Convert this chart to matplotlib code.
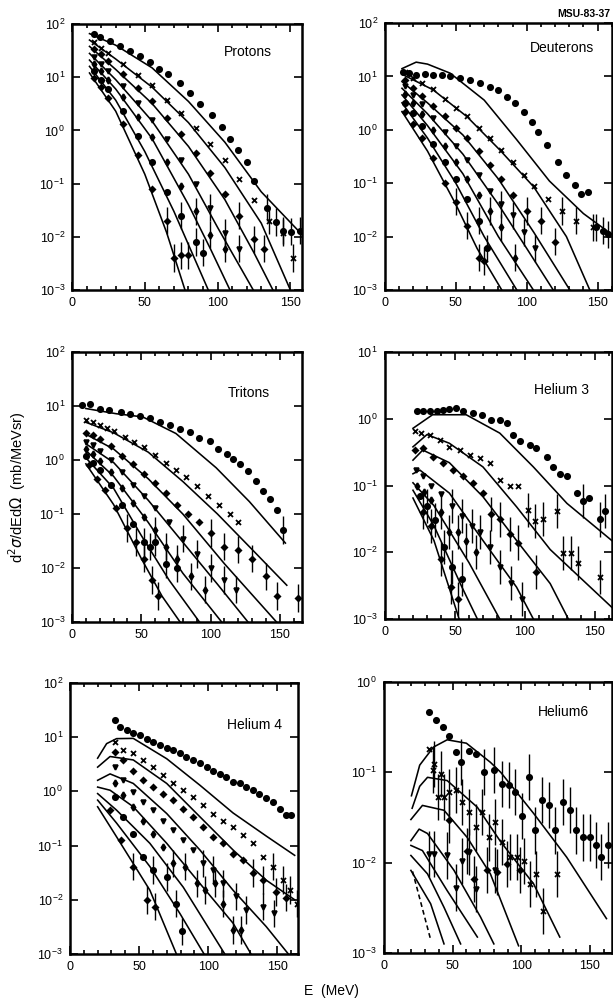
import matplotlib
matplotlib.use("Agg")
import matplotlib.pyplot as plt
from matplotlib.ticker import MultipleLocator, LogLocator, NullLocator

plt.rcParams['font.family'] = ['Liberation Sans', 'DejaVu Sans']

# ---------------- Protons ----------------
prot_line_e = [[12, 30, 55, 80, 105, 130, 158],
               [12, 30, 55, 80, 105, 130, 150],
               [12, 30, 55, 80, 105, 125, 138],
               [12, 30, 55, 80, 100, 124.5],
               [12, 30, 55, 80, 95, 108.5],
               [12, 30, 50, 70, 93.6],
               [12, 30, 50, 65, 77.6]]
prot_line_y = [[66, 40, 15, 3.5, 0.6, 0.07, 0.011],
               [50, 22, 6.5, 1.4, 0.2, 0.018, 0.001],
               [38, 14, 3.2, 0.5, 0.05, 0.005, 0.001],
               [28, 9, 1.5, 0.15, 0.015, 0.001],
               [21, 6, 0.7, 0.04, 0.006, 0.001],
               [16, 3.7, 0.4, 0.03, 0.001],
               [12, 2.3, 0.15, 0.012, 0.001]]
prot_pts_e = [[15, 19, 26, 33, 40, 47, 53.5, 60, 66, 74, 81, 88, 96, 103, 108.5, 114, 120, 125, 134, 140, 145, 150.5, 156.5],
              [15, 20, 25, 35, 45, 55, 65, 75, 85, 95, 105, 115, 125, 135, 145, 152],
              [15, 20, 25, 35, 45, 55, 65, 75, 85, 95, 105, 115, 125, 132],
              [15, 20, 25, 35, 45, 55, 65, 75, 85, 95, 105, 115],
              [15, 20, 25, 35, 45, 55, 65, 75, 85, 95, 105],
              [15, 20, 25, 35, 45, 55, 65, 75, 85, 90],
              [15, 20, 25, 35, 45, 55, 65, 70, 75, 80]]
prot_pts_y = [[64, 57, 48, 39, 31, 25, 19.5, 14.5, 11.5, 7.7, 5.0, 3.2, 1.95, 1.16, 0.70, 0.42, 0.25, 0.11, 0.035, 0.019, 0.013, 0.0125, 0.013],
              [46, 36, 29, 18, 11, 7, 3.8, 2.1, 1.1, 0.55, 0.28, 0.12, 0.05, 0.02, 0.012, 0.004],
              [34, 27, 20, 11.5, 6.3, 3.5, 1.7, 0.85, 0.38, 0.16, 0.065, 0.025, 0.009, 0.006],
              [24, 18, 13, 6.8, 3.3, 1.6, 0.68, 0.28, 0.1, 0.035, 0.012, 0.006],
              [18, 13, 9, 4.2, 1.8, 0.75, 0.25, 0.09, 0.03, 0.011, 0.006],
              [13, 9, 6, 2.3, 0.8, 0.25, 0.07, 0.025, 0.008, 0.005],
              [9.5, 6.5, 4, 1.3, 0.35, 0.08, 0.02, 0.004, 0.0045, 0.0045]]

# ---------------- Deuterons ----------------
deut_line_e = [[12, 22, 30, 46, 70, 93, 116, 140, 160],
               [12, 34, 58, 81, 105, 128, 144.5],
               [12, 30, 55, 80, 105, 130.4],
               [12, 30, 55, 80, 100, 118.7],
               [12, 30, 55, 80, 104.7],
               [12, 30, 50, 70, 93],
               [12, 30, 50, 65, 82.4]]
deut_line_y = [[14, 18.5, 17, 11.5, 3.6, 0.65, 0.11, 0.027, 0.011],
               [11, 5.6, 1.75, 0.42, 0.085, 0.01, 0.001],
               [8, 3.2, 0.8, 0.12, 0.012, 0.001],
               [6, 2.0, 0.35, 0.04, 0.006, 0.001],
               [4.5, 1.2, 0.15, 0.01, 0.001],
               [3.2, 0.7, 0.1, 0.01, 0.001],
               [2.2, 0.4, 0.04, 0.006, 0.001]]
deut_pts_e = [[13, 17, 22, 28, 34, 40, 46, 53, 60, 67, 74, 80, 86, 92, 98, 103.5, 108, 114, 122, 128, 134, 138.6, 143, 149, 154, 157],
              [14, 20, 26, 34, 42, 50, 58, 66, 74, 82, 90, 98, 105, 115, 125, 135, 147],
              [14, 20, 26, 34, 42, 50, 58, 66, 74, 82, 90, 100, 110, 120],
              [14, 20, 26, 34, 42, 50, 58, 66, 74, 82, 90, 98, 106],
              [14, 20, 26, 34, 42, 50, 58, 66, 74, 82, 92],
              [14, 20, 26, 34, 42, 50, 58, 66, 72],
              [14, 20, 26, 34, 42, 50, 58, 66, 70]]
deut_pts_y = [[12.3, 11.5, 10.8, 11, 10.7, 10.5, 10.2, 9.3, 8.6, 7.4, 6.4, 5.6, 4.2, 3.2, 2.2, 1.42, 0.91, 0.51, 0.25, 0.14, 0.091, 0.063, 0.068, 0.015, 0.013, 0.011],
              [12, 9.5, 7.5, 5.8, 3.8, 2.6, 1.8, 1.1, 0.7, 0.42, 0.25, 0.14, 0.09, 0.05, 0.03, 0.02, 0.015],
              [8.5, 6, 4.3, 2.8, 1.8, 1.1, 0.7, 0.4, 0.22, 0.12, 0.06, 0.03, 0.02, 0.008],
              [6.5, 4.5, 3, 1.7, 0.9, 0.5, 0.27, 0.14, 0.07, 0.04, 0.025, 0.012, 0.006],
              [4.6, 3.2, 2, 1, 0.5, 0.25, 0.12, 0.06, 0.03, 0.015, 0.004],
              [3.2, 2.1, 1.2, 0.55, 0.25, 0.12, 0.05, 0.02, 0.006],
              [2.2, 1.3, 0.7, 0.3, 0.1, 0.045, 0.016, 0.004, 0.0035]]

# ---------------- Tritons ----------------
trit_line_e = [[10, 32, 51, 75, 104, 128, 154],
               [10, 30, 55, 80, 105, 130, 155],
               [10, 30, 55, 80, 110, 147.6],
               [10, 30, 55, 80, 105, 127],
               [10, 30, 55, 80, 108],
               [10, 30, 50, 70, 92],
               [10, 30, 50, 65, 78]]
trit_line_y = [[9, 7.2, 6.3, 3.1, 0.72, 0.17, 0.029],
               [5, 3.2, 1.4, 0.4, 0.1, 0.022, 0.0048],
               [3, 1.6, 0.45, 0.1, 0.012, 0.001],
               [2, 0.9, 0.18, 0.03, 0.005, 0.001],
               [1.5, 0.5, 0.07, 0.008, 0.001],
               [1.1, 0.3, 0.04, 0.006, 0.001],
               [0.85, 0.15, 0.015, 0.003, 0.001]]
trit_pts_e = [[7, 13, 20, 27, 35, 42, 49, 56, 63.5, 70.7, 78, 85, 92, 99.5, 105.5, 111.5, 116, 121, 127, 133, 138, 143, 147.6, 152],
              [10, 15, 20, 25, 30, 38, 45, 52, 60, 68, 75, 82, 90, 98, 106, 114, 120],
              [10, 15, 20, 28, 36, 44, 52, 60, 68, 76, 84, 92, 100, 110, 120, 130, 140, 148, 163],
              [10, 15, 20, 28, 36, 44, 52, 60, 70, 80, 90, 100, 110, 118],
              [10, 15, 20, 28, 36, 44, 52, 60, 68, 76, 86, 96],
              [10, 15, 20, 28, 36, 44, 52, 56, 60, 68, 76],
              [12, 18, 24, 32, 40, 46, 52, 58, 62]]
trit_pts_y = [[10.5, 11, 9, 8.6, 7.8, 7.2, 6.5, 5.9, 5.1, 4.4, 3.8, 3.3, 2.6, 2.3, 1.6, 1.3, 1.05, 0.85, 0.63, 0.41, 0.27, 0.19, 0.12, 0.051],
              [5.5, 5, 4.5, 4, 3.5, 2.7, 2.2, 1.75, 1.25, 0.9, 0.65, 0.48, 0.33, 0.22, 0.15, 0.1, 0.07],
              [3.2, 2.9, 2.5, 1.8, 1.2, 0.85, 0.55, 0.38, 0.25, 0.15, 0.1, 0.07, 0.045, 0.025, 0.022, 0.015, 0.007, 0.003, 0.0028],
              [2.2, 1.9, 1.5, 1.0, 0.6, 0.35, 0.22, 0.13, 0.07, 0.035, 0.018, 0.01, 0.006, 0.004],
              [1.6, 1.3, 0.95, 0.6, 0.3, 0.16, 0.09, 0.05, 0.025, 0.015, 0.007, 0.004],
              [1.2, 0.9, 0.65, 0.35, 0.15, 0.065, 0.03, 0.025, 0.03, 0.012, 0.01],
              [0.8, 0.45, 0.28, 0.13, 0.055, 0.03, 0.015, 0.006, 0.003]]

# ---------------- Helium 3 ----------------
he3_line_e = [[20, 34, 58, 82, 106, 130, 162],
              [20, 30, 46, 70, 94, 118, 162],
              [20, 27, 46, 70, 94, 118, 131],
              [20, 25, 46, 70, 94, 106],
              [20, 35, 60, 82],
              [20, 35, 55, 66],
              [20, 35, 53]]
he3_line_y = [[0.72, 1.15, 1.15, 0.61, 0.19, 0.054, 0.015],
              [0.38, 0.58, 0.43, 0.19, 0.048, 0.011, 0.0015],
              [0.24, 0.34, 0.22, 0.068, 0.015, 0.0034, 0.001],
              [0.15, 0.17, 0.077, 0.015, 0.003, 0.001],
              [0.11, 0.05, 0.007, 0.001],
              [0.085, 0.025, 0.003, 0.001],
              [0.065, 0.015, 0.001]]
he3_pts_e = [[22.6, 27, 32, 37, 41.7, 46, 51, 56, 63, 69, 76, 82, 87, 91.7, 96.4, 103.6, 108, 115.5, 120, 125, 130, 137, 141.7, 146, 153.6, 157],
             [21.4, 26, 32, 39, 46, 53.6, 60.7, 68, 75, 82, 89, 95, 102, 107, 113, 122.6, 127, 133, 138, 153.6],
             [21.4, 27, 34.5, 41.7, 48.8, 56, 63, 70, 76, 82, 89, 95, 108],
             [22, 27, 33, 40, 48, 55, 62, 68, 75, 82, 90, 98],
             [23, 28, 33, 40, 46, 52, 58, 65],
             [25, 30, 36, 42, 48, 55],
             [27, 33, 40, 47, 52]]
he3_pts_y = [[1.29, 1.29, 1.32, 1.33, 1.36, 1.4, 1.45, 1.29, 1.22, 1.15, 0.97, 0.97, 0.86, 0.58, 0.46, 0.41, 0.36, 0.27, 0.19, 0.15, 0.14, 0.077, 0.058, 0.065, 0.031, 0.041],
             [0.65, 0.61, 0.58, 0.48, 0.38, 0.34, 0.29, 0.26, 0.22, 0.12, 0.10, 0.097, 0.043, 0.029, 0.032, 0.041, 0.0097, 0.0097, 0.0068, 0.0043],
             [0.34, 0.36, 0.27, 0.22, 0.17, 0.14, 0.11, 0.077, 0.038, 0.031, 0.019, 0.014, 0.0051],
             [0.17, 0.14, 0.1, 0.075, 0.05, 0.035, 0.025, 0.02, 0.012, 0.006, 0.0035, 0.002],
             [0.1, 0.08, 0.06, 0.04, 0.02, 0.02, 0.015, 0.01],
             [0.07, 0.05, 0.03, 0.012, 0.006, 0.004],
             [0.04, 0.025, 0.008, 0.003, 0.002]]

# ---------------- Helium 4 ----------------
he4_line_e = [[20, 26.5, 33.7, 45.8, 70, 94, 118, 142, 162.6],
              [20, 29, 45.8, 70, 94, 118, 142, 162.6],
              [20, 29, 45.8, 70, 94, 118, 142, 158],
              [20, 29, 45.8, 70, 94, 118, 131],
              [20, 33.7, 57.8, 82, 112],
              [20, 33.7, 57.8, 79.5, 97],
              [20, 33.7, 57.8, 77]]
he4_line_y = [[4.1, 7.6, 9.4, 9.5, 4.0, 1.3, 0.4, 0.15, 0.066],
              [2.8, 4.4, 3.8, 1.4, 0.34, 0.083, 0.023, 0.01],
              [1.6, 2.1, 1.4, 0.39, 0.083, 0.015, 0.0032, 0.001],
              [1.2, 1.05, 0.52, 0.11, 0.02, 0.0037, 0.001],
              [0.91, 0.45, 0.11, 0.017, 0.001],
              [0.69, 0.26, 0.041, 0.0056, 0.001],
              [0.52, 0.145, 0.015, 0.001]]
he4_pts_e = [[32.5, 36, 41, 45.8, 50.6, 55.4, 60, 65, 70, 74.7, 79.5, 84, 89, 94, 98.8, 103.6, 108.4, 113, 118, 123, 127.7, 132.5, 137, 142, 147, 151.8, 156.6, 160],
             [32.5, 38.5, 45.8, 53, 60, 67.5, 74.7, 82, 89, 96.4, 103.6, 111, 118, 125, 132.5, 140, 147, 154, 159, 164],
             [32.5, 38.5, 45.8, 53, 60, 67.5, 74.7, 82, 89, 96.4, 103.6, 111, 118, 125, 132.5, 140, 149, 156.6],
             [32.5, 38.5, 45.8, 53, 60, 67.5, 74.7, 82, 89, 96.4, 103.6, 111, 120.5, 127.7, 140, 148],
             [32.5, 38.5, 45.8, 53, 60, 67.5, 74.7, 83, 91.6, 97.6, 104.8, 111, 118, 124],
             [32.5, 38.5, 45.8, 53, 60, 70, 77, 80.7],
             [29, 37, 45.8, 55.4, 61.4]]
he4_pts_y = [[20.5, 15.4, 13.4, 11.7, 10.8, 9.4, 8.1, 7.1, 6.2, 5.7, 5.0, 4.3, 3.8, 3.3, 2.8, 2.4, 2.1, 1.85, 1.5, 1.4, 1.2, 1.05, 0.91, 0.74, 0.65, 0.48, 0.36, 0.36],
             [8.1, 5.7, 5.0, 3.8, 2.8, 2.0, 1.4, 1.05, 0.79, 0.56, 0.39, 0.29, 0.22, 0.155, 0.11, 0.062, 0.041, 0.023, 0.015, 0.0085],
             [5.4, 3.8, 2.4, 1.6, 1.2, 0.91, 0.69, 0.48, 0.34, 0.22, 0.145, 0.11, 0.071, 0.054, 0.031, 0.023, 0.014, 0.011],
             [2.8, 1.6, 0.98, 0.65, 0.45, 0.29, 0.19, 0.126, 0.083, 0.047, 0.035, 0.02, 0.0115, 0.0065, 0.0075, 0.0056],
             [1.4, 0.85, 0.52, 0.29, 0.165, 0.095, 0.047, 0.041, 0.02, 0.015, 0.02, 0.0085, 0.0028, 0.0028],
             [0.79, 0.34, 0.165, 0.062, 0.035, 0.026, 0.0085, 0.0026],
             [0.45, 0.126, 0.041, 0.01, 0.0075]]

# ---------------- Helium 6 ----------------
he6_line_e = [[20, 26, 36, 46, 60, 77.5, 85, 109, 133, 162],
              [20.5, 26, 31.7, 46, 68, 85, 109, 128],
              [19.6, 28, 43.7, 60.6, 77.5, 98],
              [19.6, 25.6, 31.7, 51, 70.3, 80],
              [19.6, 28, 46, 68],
              [19.6, 31.7, 43.7, 55.8],
              [19.6, 34, 43.7],
              [20.8, 34]]
he6_line_y = [[0.055, 0.12, 0.19, 0.229, 0.21, 0.129, 0.1, 0.035, 0.0115, 0.0024],
              [0.04, 0.07, 0.088, 0.081, 0.041, 0.017, 0.0058, 0.0015],
              [0.03, 0.043, 0.038, 0.019, 0.0075, 0.0012],
              [0.0175, 0.0235, 0.021, 0.0082, 0.0025, 0.00126],
              [0.0155, 0.0136, 0.0049, 0.0015],
              [0.012, 0.0075, 0.0032, 0.00126],
              [0.0082, 0.0035, 0.00126],
              [0.008, 0.0014]]
he6_pts_e = [[33, 37.8, 42.7, 47.5, 52.2, 55.8, 61.8, 66.7, 72.7, 80, 86, 91, 95.7, 100.5, 105.3, 110, 115, 119.8, 124.6, 130.6, 135.4, 140, 145, 150, 154.7, 158.3, 163],
             [32.8, 35.5, 36.5, 39, 41.3, 44, 47.3, 52.2, 57, 61.8, 66.7, 71.5, 76.3, 81, 86, 92, 97, 101.7, 106.5, 111, 116, 126],
             [47.3, 60.7, 65.5, 75, 82.4, 89.6, 99],
             [32.8, 36.5, 46, 52.2, 57, 61.8, 66.7, 81]]
he6_pts_y = [[0.47, 0.38, 0.32, 0.25, 0.166, 0.129, 0.174, 0.16, 0.1, 0.105, 0.075, 0.072, 0.06, 0.033, 0.089, 0.0227, 0.049, 0.043, 0.0227, 0.047, 0.038, 0.0227, 0.019, 0.019, 0.0155, 0.0115, 0.0155],
             [0.18, 0.105, 0.123, 0.053, 0.096, 0.053, 0.06, 0.063, 0.047, 0.036, 0.0245, 0.036, 0.019, 0.028, 0.017, 0.0115, 0.0115, 0.0105, 0.0058, 0.0074, 0.0029, 0.0074],
             [0.03, 0.0135, 0.0066, 0.0082, 0.0079, 0.0097, 0.0082],
             [0.0125, 0.0125, 0.012, 0.0053, 0.0105, 0.013, 0.0051, 0.0082]]

panel_names = ['Protons', 'Deuterons', 'Tritons', 'Helium 3', 'Helium 4', 'Helium6']

markers = ['o', 'x', 'D', 'v', 'd', 'o', 'D']
msizes = {'o': 3.8, 'x': 3.6, 'D': 2.8, 'v': 3.4, 'd': 3.4}


def draw_panel(ax, line_e, line_y, pts_e, pts_y, name, xmax, ylo, yhi, err_below, name_xy):
    for k, (e, y) in enumerate(zip(line_e, line_y)):
        ls = (0, (3, 2)) if k == 7 else '-'
        ax.plot(e, y, color='k', lw=1.15, ls=ls)
    for k, (e, y) in enumerate(zip(pts_e, pts_y)):
        m = markers[k % len(markers)]
        ax.plot(e, y, ls='none', marker=m, ms=msizes[m], color='k', mew=1.3)
        ee = [a for a, b in zip(e, y) if b < err_below]
        yy = [b for b in y if b < err_below]
        if ee:
            lo = [b - b / 1.8 for b in yy]
            hi = [b * 0.8 for b in yy]
            ax.errorbar(ee, yy, yerr=[lo, hi], fmt='none', ecolor='k', elinewidth=1.0, capsize=0)
    ax.set_yscale('log')
    ax.set_xlim(0, xmax)
    ax.set_ylim(ylo, yhi)
    ax.xaxis.set_major_locator(MultipleLocator(50))
    ax.xaxis.set_minor_locator(MultipleLocator(10))
    ax.yaxis.set_major_locator(LogLocator(base=10, numticks=10))
    ax.yaxis.set_minor_locator(NullLocator())
    ax.tick_params(which='both', direction='in', top=True, right=True, width=1.2, labelsize=9)
    ax.tick_params(which='major', length=6, pad=5)
    ax.tick_params(which='minor', length=3)
    for sp in ax.spines.values():
        sp.set_linewidth(1.8)
    ax.text(name_xy[0], name_xy[1], name, transform=ax.transAxes, ha='center', va='center', fontsize=10)


fig = plt.figure(figsize=(6.13, 10.01), dpi=100)

ax1 = fig.add_axes([0.1175, 0.7103, 0.3752, 0.2657])
ax2 = fig.add_axes([0.628, 0.7103, 0.370, 0.2667])
ax3 = fig.add_axes([0.1175, 0.3786, 0.3752, 0.2697])
ax4 = fig.add_axes([0.628, 0.3816, 0.370, 0.2667])
ax5 = fig.add_axes([0.1142, 0.0470, 0.3719, 0.2707])
ax6 = fig.add_axes([0.6264, 0.0480, 0.3719, 0.2707])

draw_panel(ax1, prot_line_e, prot_line_y, prot_pts_e, prot_pts_y, panel_names[0], 158, 1e-3, 1e2, 0.05, (0.765, 0.895))
draw_panel(ax2, deut_line_e, deut_line_y, deut_pts_e, deut_pts_y, panel_names[1], 160, 1e-3, 1e2, 0.05, (0.78, 0.906))
draw_panel(ax3, trit_line_e, trit_line_y, trit_pts_e, trit_pts_y, panel_names[2], 166, 1e-3, 1e2, 0.06, (0.77, 0.85))
draw_panel(ax4, he3_line_e, he3_line_y, he3_pts_e, he3_pts_y, panel_names[3], 162, 1e-3, 1e1, 0.06, (0.78, 0.858))
draw_panel(ax5, he4_line_e, he4_line_y, he4_pts_e, he4_pts_y, panel_names[4], 165, 1e-3, 1e2, 0.05, (0.81, 0.845))
draw_panel(ax6, he6_line_e, he6_line_y, he6_pts_e, he6_pts_y, panel_names[5], 166, 1e-3, 1e0, 0.15, (0.785, 0.89))

fig.text(0.996, 0.986, 'MSU-83-37', ha='right', va='center', fontsize=7.5, fontweight='bold')
fig.text(0.028, 0.513, r'd$^2\sigma$/dEd$\Omega$  (mb/MeVsr)', rotation=90, ha='center', va='center', fontsize=10.5)
fig.text(0.54, 0.01, 'E  (MeV)', ha='center', va='center', fontsize=10)

fig.savefig('out.png', dpi=100)
